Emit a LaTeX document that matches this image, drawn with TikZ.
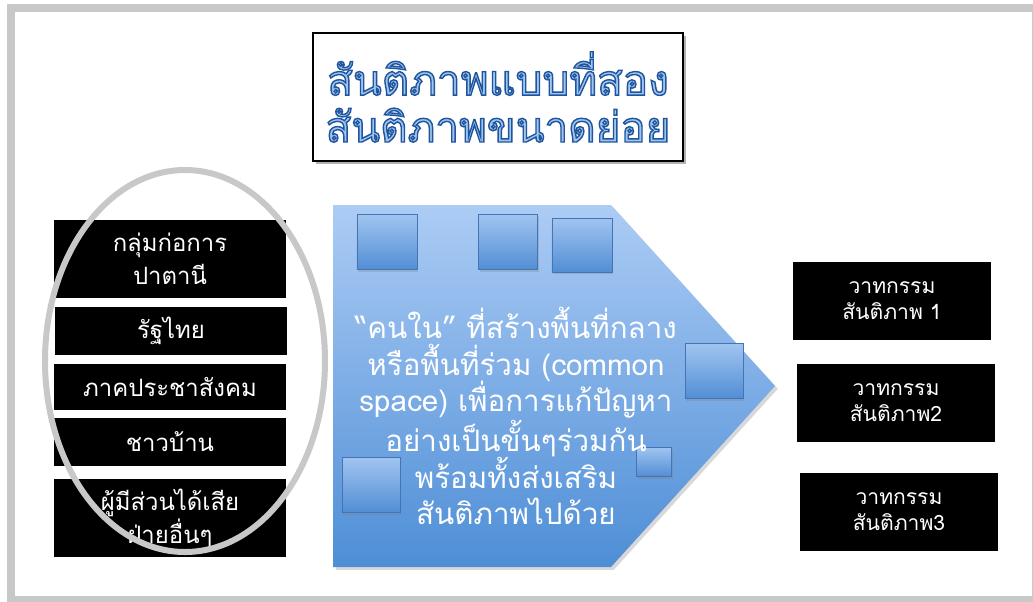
\documentclass[tikz,border=0pt]{standalone}
\usepackage{fontspec}
\usepackage{tikz}
\usepackage{xcolor}
\usetikzlibrary{shadows}
\setmainfont{Loma}[Script=Thai]
\definecolor{framegray}{RGB}{200,200,200}
\definecolor{arrowtop}{RGB}{172,204,245}
\definecolor{arrowbot}{RGB}{78,142,214}
\definecolor{sqtop}{RGB}{160,196,240}
\definecolor{sqbot}{RGB}{82,142,212}
\definecolor{sqline}{RGB}{70,115,180}
\definecolor{titlefill}{RGB}{160,198,238}
% outlined title text (fill light blue, stroke dark blue)
\newcommand{\outlined}[1]{{\color{titlefill}\special{pdf:literal direct 0.12 0.33 0.62 RG 1 w 2 Tr}#1\special{pdf:literal direct 0 Tr}}}

\begin{document}
\begin{tikzpicture}[x=0.025cm, y=-0.025cm]
    % Define styles
    \tikzstyle{actor} = [rectangle, minimum width=5.8cm, text centered, fill=black, text=white, font=\fontsize{17}{23.4}\selectfont, align=center, inner sep=0pt]
    \tikzstyle{discourse} = [rectangle, minimum width=4.95cm, minimum height=1.95cm, text centered, fill=black, text=white, font=\fontsize{15}{18.4}\selectfont, align=center, inner sep=0pt]
    \tikzstyle{square} = [rectangle, draw=sqline, top color=sqtop, bottom color=sqbot, drop shadow={opacity=0.3, shadow xshift=1pt, shadow yshift=-1.5pt}]
    \tikzstyle{titlebox} = [rectangle, draw=black, line width=1.5pt, fill=white, minimum width=9.25cm, minimum height=3.2cm, align=center, drop shadow={opacity=0.6, shadow xshift=2pt, shadow yshift=-2pt}, font=\fontsize{30}{33.3}\selectfont]

    \useasboundingbox (0,0) rectangle (1033,601);
    \fill[white] (0,0) rectangle (1033,601);

    % Frame
    \draw[framegray, line width=0.2cm] (11,8) rectangle (1036,600);

    % Title
    \node (title) [titlebox] at (498,97) {\outlined{สันติภาพแบบที่สอง}\\\outlined{สันติภาพขนาดย่อย}};

    % Left column - actors
    \node (rebels) [actor, minimum height=1.93cm] at (170,259) {กลุ่มก่อการ\\ปาตานี};
    \node (state) [actor, minimum height=1.18cm] at (171,331) {รัฐไทย};
    \node (civil) [actor, minimum height=1.16cm] at (170,387) {ภาคประชาสังคม};
    \node (villagers) [actor, minimum height=1.18cm] at (170,442) {ชาวบ้าน};
    \node (others) [actor, minimum height=1.95cm] at (170,518) {ผู้มีส่วนได้เสีย\\ฝ่ายอื่นๆ};

    % Big arrow in the middle
    \shade[top color=arrowtop, bottom color=arrowbot, drop shadow={opacity=0.3, shadow xshift=2pt, shadow yshift=-2pt}]
        (333,205) -- (611,205) -- (775,386) -- (611,567) -- (333,567) -- cycle;

    % Small squares
    \node (sqa) [square, minimum width=1.5cm, minimum height=1.37cm] at (387,242) {};
    \node (sqb) [square, minimum width=1.48cm, minimum height=1.37cm] at (508,242) {};
    \node (sqc) [square, minimum width=1.5cm, minimum height=1.35cm] at (582,245) {};
    \node (sqd) [square, minimum width=1.45cm, minimum height=1.37cm] at (714,371) {};
    \node (sqe) [square, minimum width=1.45cm, minimum height=1.37cm] at (371,485) {};
    \node (sqf) [square, minimum width=0.88cm, minimum height=0.72cm] at (654,462) {};

    \node (insiders) [text=white, align=center, font=\fontsize{21}{26.2}\selectfont] at (516,416)
        {“คนใน” ที่สร้างพื้นที่กลาง\\หรือพื้นที่ร่วม (common\\space) เพื่อการแก้ปัญหา\\อย่างเป็นขั้นๆร่วมกัน\\พร้อมทั้งส่งเสริม\\สันติภาพไปด้วย};

    % Ellipse round the actors
    \draw[framegray, line width=0.15cm] (185,361) ellipse [x radius=140, y radius=191];

    % Right column - discourses
    \node (peace1) [discourse] at (892,301) {วาทกรรม\\สันติภาพ 1};
    \node (peace2) [discourse] at (896,403) {วาทกรรม\\สันติภาพ2};
    \node (peace3) [discourse] at (899,512) {วาทกรรม\\สันติภาพ3};
\end{tikzpicture}
\end{document}
